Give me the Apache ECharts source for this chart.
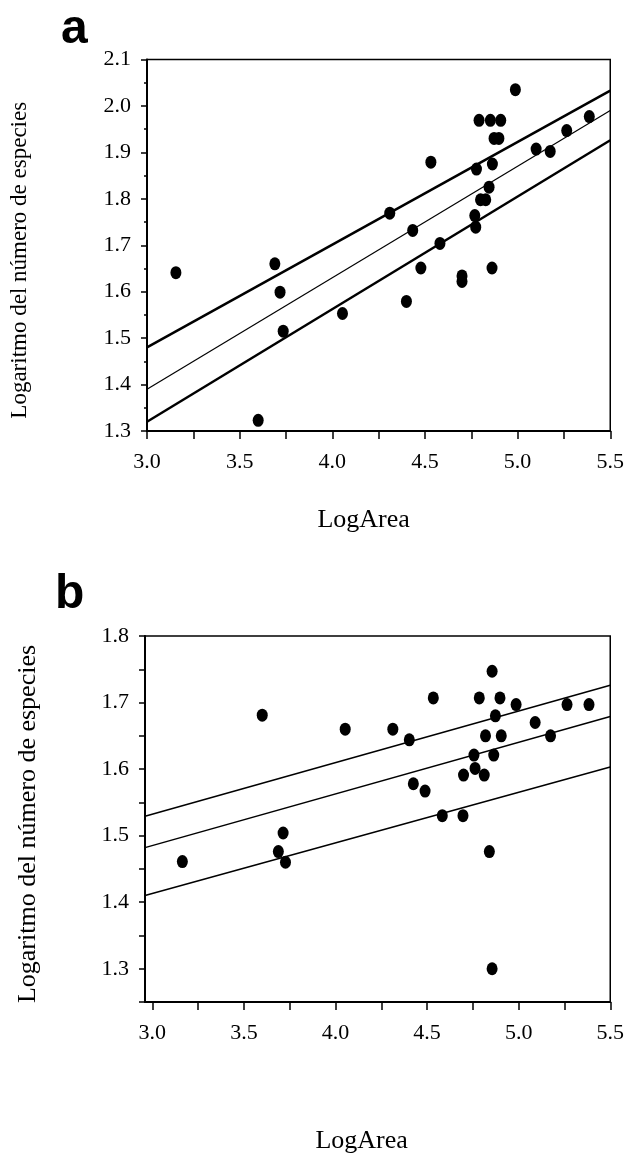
<!DOCTYPE html>
<html>
<head>
<meta charset="utf-8">
<script src="https://cdn.jsdelivr.net/npm/echarts@6/dist/echarts.min.js"></script>
<style>
  html, body { margin: 0; padding: 0; background: #fff; }
  #chart { width: 627px; height: 1176px; }
</style>
</head>
<body>
<div id="chart"></div>
<script>
// panel a: puntos (LogArea, log especies)
const xA = [3.156, 3.60, 3.69, 3.718, 3.735, 4.055, 4.31, 4.40, 4.434, 4.478, 4.532, 4.581,
    4.70, 4.70, 4.769, 4.774, 4.778, 4.80, 4.828, 4.846, 4.862, 4.864, 4.792, 4.853, 4.909,
    4.873, 4.899, 4.988, 5.10, 5.176, 5.265, 5.387];
const yA = [1.641, 1.323, 1.66, 1.599, 1.515, 1.553, 1.769, 1.579, 1.732, 1.651, 1.879, 1.704,
    1.634, 1.622, 1.764, 1.739, 1.864, 1.798, 1.798, 1.825, 1.651, 1.875, 1.969, 1.969, 1.969,
    1.93, 1.93, 2.035, 1.907, 1.902, 1.947, 1.977];
// panel a: recta de regresion y bandas
const fitXA = [3.0, 5.5];
const upperA = [1.48, 2.033];
const midA = [1.39, 1.99];
const lowerA = [1.32, 1.926];

// panel b
const xB = [3.164, 3.60, 3.688, 3.714, 3.727, 4.053, 4.313, 4.403, 4.425, 4.489, 4.534, 4.583,
    4.696, 4.699, 4.756, 4.762, 4.785, 4.812, 4.819, 4.84, 4.855, 4.855, 4.864, 4.873, 4.898,
    4.905, 4.986, 5.09, 5.174, 5.264, 5.384];
const yB = [1.461, 1.681, 1.476, 1.504, 1.46, 1.660, 1.660, 1.644, 1.578, 1.567, 1.707, 1.530,
    1.530, 1.591, 1.621, 1.601, 1.707, 1.591, 1.650, 1.476, 1.747, 1.30, 1.621, 1.680, 1.707,
    1.650, 1.697, 1.670, 1.650, 1.697, 1.697];
const fitXB = [2.96, 5.5];
const upperB = [1.529, 1.726];
const midB = [1.482, 1.679];
const lowerB = [1.41, 1.603];

// ticks panel b
const xLabelsB = [3.0, 3.5, 4.0, 4.5, 5.0, 5.5];
const xTicksB = [3.0, 3.25, 3.5, 3.75, 4.0, 4.25, 4.5, 4.75, 5.0, 5.25, 5.5];
const yLabelsB = [1.3, 1.4, 1.5, 1.6, 1.7, 1.8];
const yTicksB = [1.25, 1.3, 1.35, 1.4, 1.45, 1.5, 1.55, 1.6, 1.65, 1.7, 1.75, 1.8];

const serif = 'Liberation Serif';
const pairs = (xs, ys) => xs.map((x, i) => [x, ys[i]]);
const fmt = v => Number(v).toFixed(1);

const lineStyle = w => ({ color: '#000', width: w });
const axisBase = {
    type: 'value',
    splitLine: { show: false },
    axisLine: { show: true, onZero: false, lineStyle: { color: '#000', width: 2 } },
    axisLabel: { color: '#000', fontFamily: serif, fontSize: 22, formatter: fmt }
};

const chart = echarts.init(document.getElementById('chart'));
chart.setOption({
    animation: false,
    textStyle: { fontFamily: serif },
    grid: [
        { left: 146.7, top: 59.5, width: 464.3, height: 371.5, show: true, borderColor: '#000', borderWidth: 1.5 },
        { left: 145, top: 636, width: 472.3, height: 366, show: true, borderColor: '#000', borderWidth: 1.5 }
    ],
    xAxis: [
        Object.assign({}, axisBase, {
            gridIndex: 0, min: 3.0, max: 5.5, interval: 0.5,
            axisTick: { show: true, length: 8, lineStyle: { color: '#000', width: 1.5 } },
            minorTick: { show: true, splitNumber: 2, length: 8, lineStyle: { color: '#000', width: 1.5 } },
            axisLabel: Object.assign({}, axisBase.axisLabel, { margin: 20 }),
            name: 'LogArea', nameLocation: 'middle', nameGap: 76,
            nameTextStyle: { color: '#000', fontFamily: serif, fontSize: 26, padding: [0, 30, 0, 0] }
        }),
        Object.assign({}, axisBase, {
            gridIndex: 1, min: 2.96, max: 5.5,
            axisTick: { show: true, length: 8, customValues: xTicksB, lineStyle: { color: '#000', width: 1.5 } },
            axisLabel: Object.assign({}, axisBase.axisLabel, { margin: 20, customValues: xLabelsB }),
            name: 'LogArea', nameLocation: 'middle', nameGap: 126,
            nameTextStyle: { color: '#000', fontFamily: serif, fontSize: 26, padding: [0, 32, 0, 0] }
        })
    ],
    yAxis: [
        Object.assign({}, axisBase, {
            gridIndex: 0, min: 1.3, max: 2.1, interval: 0.1,
            axisTick: { show: true, length: 6, lineStyle: { color: '#000', width: 1.5 } },
            minorTick: { show: true, splitNumber: 2, length: 3, lineStyle: { color: '#000', width: 1.5 } },
            axisLabel: Object.assign({}, axisBase.axisLabel, { margin: 16 }),
            name: 'Logaritmo del número de especies', nameLocation: 'middle', nameGap: 116,
            nameRotate: 90,
            nameTextStyle: { color: '#000', fontFamily: serif, fontSize: 23, padding: [0, 30, 0, 0] }
        }),
        Object.assign({}, axisBase, {
            gridIndex: 1, min: 1.25, max: 1.8,
            axisTick: { show: true, length: 6, customValues: yTicksB, lineStyle: { color: '#000', width: 1.5 } },
            axisLabel: Object.assign({}, axisBase.axisLabel, { margin: 16, customValues: yLabelsB }),
            name: 'Logaritmo del número de especies', nameLocation: 'middle', nameGap: 104,
            nameRotate: 90,
            nameTextStyle: { color: '#000', fontFamily: serif, fontSize: 26, padding: [0, 10, 0, 0] }
        })
    ],
    graphic: [
        { type: 'text', left: 61, top: 6, style: { text: 'a', fill: '#000', font: 'bold 48px "Liberation Sans"' } },
        { type: 'text', left: 55, top: 571, style: { text: 'b', fill: '#000', font: 'bold 48px "Liberation Sans"' } }
    ],
    series: [
        { type: 'line', xAxisIndex: 0, yAxisIndex: 0, data: pairs(fitXA, upperA), showSymbol: false, lineStyle: lineStyle(2.5) },
        { type: 'line', xAxisIndex: 0, yAxisIndex: 0, data: pairs(fitXA, midA), showSymbol: false, lineStyle: lineStyle(1.2) },
        { type: 'line', xAxisIndex: 0, yAxisIndex: 0, data: pairs(fitXA, lowerA), showSymbol: false, lineStyle: lineStyle(2.5) },
        { type: 'scatter', xAxisIndex: 0, yAxisIndex: 0, data: pairs(xA, yA), symbolSize: [11, 13], itemStyle: { color: '#000', opacity: 1 } },
        { type: 'line', xAxisIndex: 1, yAxisIndex: 1, data: pairs(fitXB, upperB), showSymbol: false, lineStyle: lineStyle(1.5) },
        { type: 'line', xAxisIndex: 1, yAxisIndex: 1, data: pairs(fitXB, midB), showSymbol: false, lineStyle: lineStyle(1.5) },
        { type: 'line', xAxisIndex: 1, yAxisIndex: 1, data: pairs(fitXB, lowerB), showSymbol: false, lineStyle: lineStyle(1.5) },
        { type: 'scatter', xAxisIndex: 1, yAxisIndex: 1, data: pairs(xB, yB), symbolSize: [11, 13], itemStyle: { color: '#000', opacity: 1 } }
    ]
});
</script>
</body>
</html>
